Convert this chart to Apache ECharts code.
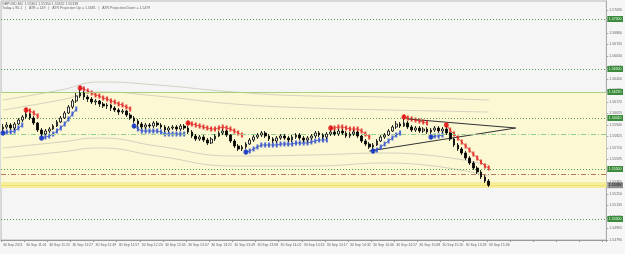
<!DOCTYPE html>
<html><head><meta charset="utf-8">
<script src="https://cdn.jsdelivr.net/npm/echarts@6/dist/echarts.min.js"></script>
<style>html,body{margin:0;padding:0;background:#f6f6f6}#c{width:625px;height:254px}</style>
</head><body><div id="c"></div>
<script>
const _ = null;
const xLabels = ["30 Sep 2011","30 Sep 11:01","30 Sep 11:13","30 Sep 11:27","30 Sep 11:49","30 Sep 11:57","30 Sep 12:20","30 Sep 12:45","30 Sep 13:07","30 Sep 13:21","30 Sep 13:49","30 Sep 13:58","30 Sep 14:02","30 Sep 14:13","30 Sep 14:17","30 Sep 14:32","30 Sep 14:46","30 Sep 14:57","30 Sep 15:08","30 Sep 15:20","30 Sep 15:28","30 Sep 15:36"];
const opens = [1.5590,1.5592,1.5594,1.5591,1.5595,1.5599,1.5602,1.5605,1.5601,1.5596,
1.5589,1.5585,1.5588,1.5590,1.5593,1.5597,1.5601,1.5606,1.5612,1.5618,
1.5623,1.5626,1.5622,1.5620,1.5617,1.5618,1.5615,1.5613,1.5614,1.5611,
1.5609,1.5607,1.5608,1.5604,1.5601,1.5598,1.5595,1.5592,1.5594,1.5593,
1.5596,1.5594,1.5592,1.5589,1.5591,1.5592,1.5590,1.5593,1.5591,1.5587,
1.5583,1.5580,1.5582,1.5579,1.5576,1.5580,1.5583,1.5586,1.5588,1.5584,
1.5578,1.5573,1.5570,1.5572,1.5575,1.5579,1.5582,1.5584,1.5586,1.5583,
1.5580,1.5578,1.5581,1.5583,1.5581,1.5579,1.5582,1.5584,1.5581,1.5579,
1.5581,1.5583,1.5586,1.5584,1.5582,1.5585,1.5587,1.5585,1.5588,1.5586,
1.5583,1.5585,1.5587,1.5583,1.5578,1.5575,1.5572,1.5574,1.5578,1.5582,
1.5584,1.5588,1.5592,1.5595,1.5593,1.5596,1.5592,1.5589,1.5591,1.5588,
1.5590,1.5587,1.5589,1.5591,1.5588,1.5590,1.5586,1.5580,1.5574,1.5570,
1.5566,1.5561,1.5556,1.5551,1.5547,1.5542,1.5538];
const closes = [1.5592,1.5594,1.5591,1.5595,1.5599,1.5602,1.5605,1.5601,1.5596,1.5589,
1.5585,1.5588,1.5590,1.5593,1.5597,1.5601,1.5606,1.5612,1.5618,1.5623,
1.5626,1.5622,1.5620,1.5617,1.5618,1.5615,1.5613,1.5614,1.5611,1.5609,
1.5607,1.5608,1.5604,1.5601,1.5598,1.5595,1.5592,1.5594,1.5593,1.5596,
1.5594,1.5592,1.5589,1.5591,1.5592,1.5590,1.5593,1.5591,1.5587,1.5583,
1.5580,1.5582,1.5579,1.5576,1.5580,1.5583,1.5586,1.5588,1.5584,1.5578,
1.5573,1.5570,1.5572,1.5575,1.5579,1.5582,1.5584,1.5586,1.5583,1.5580,
1.5578,1.5581,1.5583,1.5581,1.5579,1.5582,1.5584,1.5581,1.5579,1.5581,
1.5583,1.5586,1.5584,1.5582,1.5585,1.5587,1.5585,1.5588,1.5586,1.5583,
1.5585,1.5587,1.5583,1.5578,1.5575,1.5572,1.5574,1.5578,1.5582,1.5584,
1.5588,1.5592,1.5595,1.5593,1.5596,1.5592,1.5589,1.5591,1.5588,1.5590,
1.5587,1.5589,1.5591,1.5588,1.5590,1.5586,1.5580,1.5574,1.5570,1.5566,
1.5561,1.5556,1.5551,1.5547,1.5542,1.5538,1.55338];
const lows = [1.5588,1.5590,1.5589,1.5589,1.5594,1.5597,1.5600,1.5599,1.5594,1.5587,
1.5583,1.5584,1.5586,1.5589,1.5592,1.5596,1.5600,1.5605,1.5610,1.5616,
1.5621,1.5619,1.5617,1.5615,1.5614,1.5612,1.5611,1.5610,1.5608,1.5607,
1.5604,1.5605,1.5602,1.5599,1.5596,1.5592,1.5590,1.5590,1.5591,1.5591,
1.5592,1.5590,1.5587,1.5587,1.5589,1.5588,1.5588,1.5589,1.5585,1.5581,
1.5578,1.5578,1.5577,1.5574,1.5575,1.5578,1.5582,1.5584,1.5582,1.5576,
1.5571,1.5568,1.5568,1.5570,1.5574,1.5577,1.5580,1.5582,1.5581,1.5578,
1.5576,1.5576,1.5579,1.5579,1.5577,1.5577,1.5580,1.5579,1.5577,1.5577,
1.5579,1.5581,1.5582,1.5580,1.5580,1.5583,1.5583,1.5583,1.5584,1.5581,
1.5581,1.5583,1.5581,1.5576,1.5573,1.5570,1.5570,1.5573,1.5577,1.5580,
1.5583,1.5587,1.5590,1.5591,1.5592,1.5590,1.5587,1.5587,1.5586,1.5586,
1.5585,1.5585,1.5587,1.5586,1.5586,1.5584,1.5578,1.5572,1.5568,1.5564,
1.5559,1.5554,1.5549,1.5545,1.5540,1.5536,1.5532];
const highs = [1.5595,1.5597,1.5596,1.5597,1.5601,1.5604,1.5607,1.5606,1.5603,1.5597,
1.5591,1.5590,1.5592,1.5595,1.5599,1.5603,1.5608,1.5614,1.5620,1.5626,
1.5629,1.5628,1.5624,1.5622,1.5620,1.5619,1.5617,1.5616,1.5615,1.5613,
1.5611,1.5610,1.5609,1.5606,1.5603,1.5600,1.5597,1.5596,1.5596,1.5598,
1.5598,1.5596,1.5594,1.5593,1.5594,1.5594,1.5595,1.5595,1.5593,1.5589,
1.5585,1.5584,1.5584,1.5581,1.5582,1.5585,1.5588,1.5590,1.5589,1.5585,
1.5580,1.5575,1.5574,1.5577,1.5581,1.5584,1.5586,1.5588,1.5588,1.5585,
1.5582,1.5583,1.5585,1.5585,1.5583,1.5584,1.5586,1.5586,1.5583,1.5583,
1.5585,1.5588,1.5588,1.5586,1.5587,1.5589,1.5589,1.5590,1.5590,1.5588,
1.5587,1.5589,1.5588,1.5584,1.5580,1.5577,1.5576,1.5580,1.5584,1.5586,
1.5590,1.5594,1.5598,1.5597,1.5600,1.5598,1.5594,1.5593,1.5593,1.5592,
1.5592,1.5591,1.5593,1.5593,1.5592,1.5592,1.5587,1.5581,1.5576,1.5572,
1.5568,1.5563,1.5558,1.5553,1.5549,1.5544,1.5540];
const stopDown = [_,_,_,_,_,_,
1.5609,1.5608,1.5606,1.5603,
_,_,_,_,_,_,_,_,_,_,
1.5631,1.5630,1.5628,1.5626,1.5624,1.5623,1.5621,1.5620,1.5618,1.5617,1.5615,1.5614,1.5612,1.5610,
_,_,_,_,_,_,_,_,_,_,_,_,_,_,
1.5596,1.5595,1.5594,1.5593,1.5592,1.5591,1.5590,1.5590,1.5591,1.5592,1.5591,1.5590,1.5588,1.5586,1.5584,
_,_,_,_,_,_,_,_,_,_,_,_,_,_,_,_,_,_,_,_,_,_,
1.5591,1.5591,1.5592,1.5592,1.5591,1.5590,1.5590,1.5590,1.5588,1.5585,1.5582,
_,_,_,_,_,_,_,_,
1.5602,1.5601,1.5600,1.5599,1.5598,1.5597,1.5596,
_,_,_,_,
1.5594,1.5589,1.5585,1.5581,1.5577,1.5573,1.5569,1.5565,1.5561,1.5557,1.5553,1.5551];
const stopUp = [1.5586,1.5587,1.5587,1.5588,1.5591,1.5594,
_,_,_,_,
1.5581,1.5582,1.5583,1.5585,1.5588,1.5591,1.5595,1.5600,1.5605,1.5610,
_,_,_,_,_,_,_,_,_,_,_,_,_,_,
1.5593,1.5590,1.5588,1.5588,1.5588,1.5588,1.5588,1.5587,1.5585,1.5585,1.5585,1.5585,1.5585,1.5585,
_,_,_,_,_,_,_,_,_,_,_,_,_,_,_,
1.5567,1.5568,1.5570,1.5572,1.5574,1.5574,1.5574,1.5574,1.5574,1.5575,1.5575,1.5575,1.5575,1.5576,1.5576,1.5576,1.5576,1.5577,1.5578,1.5579,1.5579,1.5579,
_,_,_,_,_,_,_,_,_,_,_,
1.5568,1.5569,1.5572,1.5575,1.5578,1.5581,1.5584,1.5586,
_,_,_,_,_,_,_,
1.5582,1.5583,1.5583,1.5584,
_,_,_,_,_,_,_,_,_,_,_,_];
const env1 = [[0,1.5619],[15,1.5629],[25,1.5637],[40,1.5634],[60,1.5627],[80,1.5623],[100,1.5622],[126,1.5619]];
const env2 = [[0,1.5609],[15,1.5619],[25,1.5627],[40,1.5623],[60,1.5615],[80,1.5611],[100,1.5609],[126,1.5607]];
const env3 = [[0,1.5571],[15,1.5577],[25,1.5581],[40,1.5573],[60,1.5563],[80,1.5564],[100,1.5566],[126,1.5554]];
const env4 = [[0,1.5561],[15,1.5567],[25,1.5571],[40,1.5563],[60,1.5553],[80,1.5553],[100,1.5556],[126,1.5543]];
const wedgeLow = [[95,1.5568],[133,1.5591]];
const wedgeHigh = [[105,1.5600],[133,1.5591]];
const greenLevels = [1.5700,1.5650,1.5601,1.5550,1.5500];
const bandTop = 1.5627, bandBottom = 1.5533;
const pivotDash = 1.5585, brownDash = 1.5545;
const currentPrice = 1.55338;
const headerLine1 = "GBPUSD,M4  1.55301 1.55350 1.55332 1.55338";
const headerLine2 = "Today = 90.1   |   ATR = 149   |   ATR Projection Up = 1.5681   |   ATR Projection Down = 1.5479";

const N = 157;
const cats = [];
for (let i = 0; i < N; i++) cats.push(i % 6 === 0 && xLabels[i / 6] ? xLabels[i / 6] : '');
const candles = closes.map((c, i) => [opens[i], c, lows[i], highs[i]]);
const pts = arr => arr.map((v, i) => v == null ? null : [i, v]).filter(Boolean);
const turns = arr => arr.map((v, i) => (v != null && (i === 0 || arr[i - 1] == null)) ? [i, v] : null).filter(Boolean);
const FS = 3.5, FF = 'Liberation Sans';
const lbl = (bg, fg) => ({show: true, position: 'end', distance: 1, formatter: p => Number(p.value).toFixed(5), fontSize: FS, fontFamily: FF, color: fg, backgroundColor: bg, padding: [1, 1.5]});

function levelSeries(v, lineStyle, label) {
  return {
    type: 'line', data: [], z: 2, silent: true,
    markLine: {silent: true, symbol: 'none', precision: 6, data: [{yAxis: v}], lineStyle: lineStyle, label: label || {show: false}}
  };
}

const greenDot = {color: '#4e9a4e', type: [1, 2], width: 1};
const levelSeriesList = [
  ...greenLevels.map(v => levelSeries(v, greenDot, lbl('#3c8a3c', '#e6ffe6'))),
  levelSeries(bandTop, {color: '#a8d080', type: 'solid', width: 1}, lbl('#3c8a3c', '#e6ffe6')),
  levelSeries(pivotDash, {color: '#8fd08f', type: [5, 2, 1, 2], width: 1}),
  levelSeries(brownDash, {color: '#b07a5a', type: [5, 2, 1, 2], width: 1}),
  levelSeries(currentPrice, {color: '#efe070', type: 'solid', width: 1}, lbl('#8c8c8c', '#111'))
];

const chart = echarts.init(document.getElementById('c'), null, {renderer: 'canvas'});
chart.setOption({
  backgroundColor: '#f6f6f6',
  animation: false,
  graphic: [
    {type: 'text', left: 2, top: 2, z: 100, style: {text: headerLine1, fontSize: FS, fontFamily: FF, fill: '#666'}},
    {type: 'text', left: 2, top: 6, z: 100, style: {text: headerLine2, fontSize: FS, fontFamily: FF, fill: '#666'}}
  ],
  grid: {left: 0, right: 16, top: 1, bottom: 14, show: true, backgroundColor: '#f5f5f5', borderColor: '#b8b8b8', borderWidth: 1},
  xAxis: {
    type: 'category', data: cats, boundaryGap: true,
    axisLine: {lineStyle: {color: '#999'}},
    axisTick: {show: true, interval: 5, length: 2, lineStyle: {color: '#999'}},
    axisLabel: {interval: 5, align: 'left', margin: 3, fontSize: FS, fontFamily: FF, color: '#666'},
    splitLine: {show: false}
  },
  yAxis: {
    type: 'value', position: 'right', min: 1.5479, max: 1.5718, interval: 0.00115, scale: true,
    axisLine: {show: true, lineStyle: {color: '#aaa'}},
    axisTick: {show: true, length: 2, lineStyle: {color: '#aaa'}},
    axisLabel: {margin: 3, fontSize: FS, fontFamily: FF, color: '#666', showMaxLabel: false, formatter: v => v.toFixed(5)},
    splitLine: {show: false}
  },
  series: [
    {
      type: 'line', data: [], z: 1, silent: true,
      markArea: {silent: true, precision: 6, data: [
        [{yAxis: bandBottom, itemStyle: {color: '#fbf8d3'}}, {yAxis: bandTop}],
        [{yAxis: bandBottom - 0.0002, itemStyle: {color: '#f6ee9c'}}, {yAxis: bandBottom + 0.0004}]
      ]}
    },
    ...levelSeriesList,
    ...[env1, env2, env3, env4].map(e => ({type: 'line', data: e, smooth: true, symbol: 'none', z: 2, lineStyle: {color: '#c9c6b8', width: 0.8}})),
    {type: 'line', data: stopDown, symbol: 'none', connectNulls: false, z: 3, lineStyle: {color: '#e04040', width: 0.8}},
    {type: 'line', data: stopUp, symbol: 'none', connectNulls: false, z: 3, lineStyle: {color: '#3050c0', width: 0.8}},
    {type: 'scatter', data: pts(stopDown), symbol: 'rect', symbolSize: [2, 5], z: 4, itemStyle: {color: '#e01818'}},
    {type: 'scatter', data: pts(stopUp), symbol: 'rect', symbolSize: [2, 5], z: 4, itemStyle: {color: '#2848d0'}},
    {type: 'line', data: wedgeLow, symbol: 'none', z: 4, lineStyle: {color: '#333', width: 1}},
    {type: 'line', data: wedgeHigh, symbol: 'none', z: 4, lineStyle: {color: '#333', width: 1}},
    {type: 'candlestick', data: candles, barWidth: 2.2, z: 5,
      itemStyle: {color: '#ffffff', color0: '#000000', borderColor: '#000000', borderColor0: '#000000', borderWidth: 0.8}},
    {type: 'scatter', data: turns(stopDown), symbol: 'circle', symbolSize: 5, z: 6, itemStyle: {color: '#e01010'}},
    {type: 'scatter', data: turns(stopUp), symbol: 'circle', symbolSize: 5, z: 6, itemStyle: {color: '#1030c0'}}
  ]
});
</script></body></html>
